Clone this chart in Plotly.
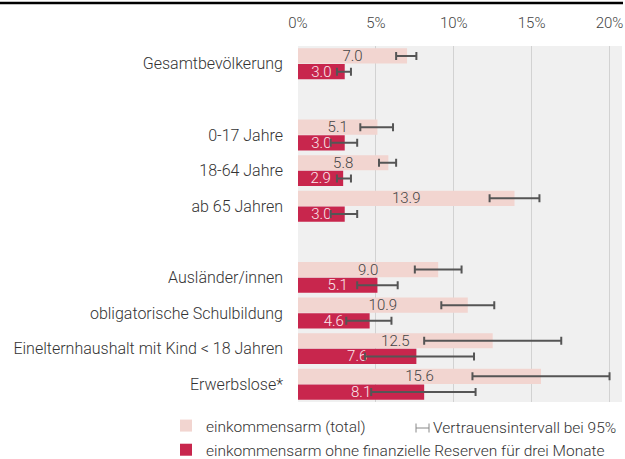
import plotly.graph_objects as go

# categories (top to bottom); blank entries are spacer rows
category_order = [
    "Gesamtbevölkerung",
    " ",
    "0-17 Jahre",
    "18-64 Jahre",
    "ab 65 Jahren",
    "  ",
    "Ausländer/innen",
    "obligatorische Schulbildung",
    "Einelternhaushalt mit Kind < 18 Jahren",
    "Erwerbslose*",
]
categories = [c for c in category_order if c.strip()]

total = [7.0, 5.1, 5.8, 13.9, 9.0, 10.9, 12.5, 15.6]
total_lo = [6.3, 4.0, 5.2, 12.3, 7.5, 9.2, 8.1, 11.2]
total_hi = [7.6, 6.1, 6.3, 15.5, 10.5, 12.6, 16.9, 20.0]

reserve = [3.0, 3.0, 2.9, 3.0, 5.1, 4.6, 7.6, 8.1]
reserve_lo = [2.5, 2.1, 2.5, 2.1, 3.8, 3.1, 4.3, 4.7]
reserve_hi = [3.4, 3.8, 3.4, 3.8, 6.4, 6.0, 11.3, 11.4]

x_ticks = [0, 5, 10, 15, 20]

TOTAL_COLOR = "#f2d5d0"
RESERVE_COLOR = "#c8264d"
ERR_COLOR = "#555555"
FONT = "Roboto"

W, H = 625, 459
L, R, T, B = 298, 3, 46, 57
plot_w = W - L - R
plot_h = H - T - B


def px_x(x):
    return (x - L) / plot_w


def px_y(y):
    return (H - B - y) / plot_h


fig = go.Figure()

fig.add_trace(
    go.Bar(
        y=categories,
        x=total,
        orientation="h",
        name="einkommensarm (total)",
        legendgroup="a",
        marker=dict(color=TOTAL_COLOR, line=dict(width=0)),
        texttemplate="%{x:.1f}",
        textposition="inside",
        insidetextanchor="middle",
        constraintext="none",
        textangle=0,
        textfont=dict(family=FONT, size=15, color="#444444", weight=300),
        error_x=dict(
            type="data",
            symmetric=False,
            array=[h - v for h, v in zip(total_hi, total)],
            arrayminus=[v - l for v, l in zip(total, total_lo)],
            color=ERR_COLOR,
            thickness=2,
            width=4,
        ),
        hoverinfo="skip",
    )
)
fig.add_trace(
    go.Bar(
        y=categories,
        x=reserve,
        orientation="h",
        name="einkommensarm ohne finanzielle Reserven für drei Monate",
        legendgroup="b",
        marker=dict(color=RESERVE_COLOR, line=dict(width=0)),
        texttemplate="%{x:.1f}",
        textposition="inside",
        insidetextanchor="middle",
        constraintext="none",
        textangle=0,
        textfont=dict(family=FONT, size=15, color="#fbe9ee", weight=300),
        error_x=dict(
            type="data",
            symmetric=False,
            array=[h - v for h, v in zip(reserve_hi, reserve)],
            arrayminus=[v - l for v, l in zip(reserve, reserve_lo)],
            color=ERR_COLOR,
            thickness=2,
            width=4,
        ),
        hoverinfo="skip",
    )
)

# top black rule
fig.add_shape(
    type="line", xref="paper", yref="paper",
    x0=px_x(0), x1=px_x(623), y0=px_y(3), y1=px_y(3),
    line=dict(color="#000000", width=2.5),
)

# confidence interval legend item
ci_y = px_y(428)
ci_x0, ci_x1 = px_x(416), px_x(429)
ci_cap = 4.5 / plot_h
ci_line = dict(color="#888888", width=1)
fig.add_shape(type="line", xref="paper", yref="paper", x0=ci_x0, x1=ci_x1, y0=ci_y, y1=ci_y, line=ci_line)
fig.add_shape(type="line", xref="paper", yref="paper", x0=ci_x0, x1=ci_x0, y0=ci_y - ci_cap, y1=ci_y + ci_cap, line=ci_line)
fig.add_shape(type="line", xref="paper", yref="paper", x0=ci_x1, x1=ci_x1, y0=ci_y - ci_cap, y1=ci_y + ci_cap, line=ci_line)
fig.add_annotation(
    xref="paper", yref="paper", x=px_x(431), y=ci_y,
    text="Vertrauensintervall bei 95%", showarrow=False,
    xanchor="left", yanchor="middle",
    font=dict(family=FONT, size=15.5, color="#333333", weight=300),
)

fig.update_xaxes(
    side="top",
    range=[0, 20.8],
    tickvals=x_ticks,
    ticktext=[f"{v}%" for v in x_ticks],
    tickfont=dict(family=FONT, size=15, color="#444444", weight=300),
    ticklabelstandoff=14,
    showgrid=True,
    gridcolor="#d2d2d2",
    gridwidth=1,
    zeroline=False,
    showline=False,
    ticks="",
    fixedrange=True,
)
fig.update_yaxes(
    type="category",
    categoryorder="array",
    categoryarray=category_order,
    autorange="reversed",
    tickfont=dict(family=FONT, size=16, color="#333333", weight=300),
    ticklabelstandoff=14,
    showgrid=False,
    zeroline=False,
    ticks="",
)
fig.update_layout(
    width=W,
    height=H,
    barmode="group",
    bargap=0.12,
    bargroupgap=0.03,
    plot_bgcolor="#f0f0f0",
    paper_bgcolor="#ffffff",
    font=dict(family=FONT, size=14, color="#333333"),
    margin=dict(l=L, r=R, t=T, b=B, autoexpand=False),
    showlegend=True,
    legend=dict(
        orientation="v",
        x=px_x(166),
        y=px_y(409),
        xanchor="left",
        yanchor="top",
        bgcolor="rgba(0,0,0,0)",
        font=dict(family=FONT, size=15.5, color="#333333", weight=300),
        tracegroupgap=1,
        itemwidth=30,
    ),
)

fig.write_html(
    "out.html",
    config={"displayModeBar": False},
    post_script="document.body.style.margin = '0';",
)
